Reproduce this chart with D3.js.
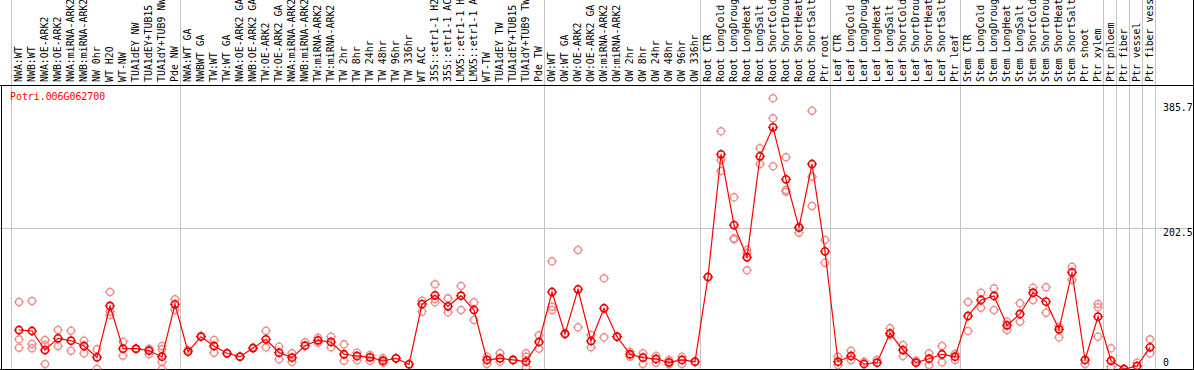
<!DOCTYPE html>
<html>
<head>
<meta charset="utf-8">
<script src="https://cdn.jsdelivr.net/npm/d3@7"></script>
<style>
  html, body { margin: 0; padding: 0; background: #fff; }
  svg { display: block; }
  text { font-family: "DejaVu Sans Mono", "Liberation Mono", monospace; font-size: 9.9px; }
</style>
</head>
<body>
<div id="chart"></div>
<script>
const geneName = 'Potri.006G062700';

const categories = [
  'NWA:WT', 'NWB:WT', 'NWA:OE-ARK2', 'NWB:OE-ARK2', 'NWA:miRNA-ARK2', 'NWB:miRNA-ARK2', 'NW 0hr', 'WT H2O',
  'WT-NW', 'TUA1dEY NW', 'TUA1dEY+TUB15 NW', 'TUA1dY+TUB9 NW', 'Pde NW',
  'NWA:WT GA', 'NWBWT GA', 'TW:WT', 'TW:WT GA', 'NWA:OE-ARK2 GA', 'NWB:OE-ARK2 GA', 'TW:OE-ARK2', 'TW:OE-ARK2 GA',
  'NWA:miRNA-ARK2 GA', 'NWB:miRNA-ARK2 GA', 'TW:miRNA-ARK2', 'TW:miRNA-ARK2 GA', 'TW 2hr', 'TW 8hr', 'TW 24hr',
  'TW 48hr', 'TW 96hr', 'TW 336hr', 'WT ACC', '35S::etr1-1 H2O', '35S::etr1-1 ACC', 'LMX5::etr1-1 H2O',
  'LMX5::etr1-1 ACC', 'WT-TW', 'TUA1dEY TW', 'TUA1dEY+TUB15 TW', 'TUA1dY+TUB9 TW', 'Pde TW',
  'OW:WT', 'OW:WT GA', 'OW:OE-ARK2', 'OW:OE-ARK2 GA', 'OW:miRNA-ARK2', 'OW:miRNA-ARK2 GA', 'OW 2hr', 'OW 8hr',
  'OW 24hr', 'OW 48hr', 'OW 96hr', 'OW 336hr',
  'Root CTR', 'Root LongCold', 'Root LongDrought', 'Root LongHeat', 'Root LongSalt', 'Root ShortCold',
  'Root ShortDrought', 'Root ShortHeat', 'Root ShortSalt', 'Ptr root',
  'Leaf CTR', 'Leaf LongCold', 'Leaf LongDrought', 'Leaf LongHeat', 'Leaf LongSalt', 'Leaf ShortCold',
  'Leaf ShortDrought', 'Leaf ShortHeat', 'Leaf ShortSalt', 'Ptr leaf',
  'Stem CTR', 'Stem LongCold', 'Stem LongDrought', 'Stem LongHeat', 'Stem LongSalt', 'Stem ShortCold',
  'Stem ShortDrought', 'Stem ShortHeat', 'Stem ShortSalt', 'Ptr shoot',
  'Ptr xylem', 'Ptr phloem', 'Ptr fiber', 'Ptr vessel', 'Ptr fiber vessel'
];

// mean expression per sample
const means = [
  56.1, 54.7, 27.3, 44.2, 40.7, 33.1, 16.8, 90.7, 29.2, 29.2, 26.3, 17.7, 93.1,
  24.9, 46.5, 33.1, 22.6, 17.7, 30.2, 42.7, 23.5, 16.3, 33.5, 41.3, 38.9, 21.2, 18.7, 16.8,
  11.9, 15.4, 6.8, 93.5, 106.1, 90.2, 105.5, 84.9, 13.0, 15.4, 13.0, 10.5, 38.9,
  110.8, 50.4, 114.7, 40.3, 87.4, 46.5, 21.2, 16.3, 14.4, 9.6, 13.0, 10.5,
  132.4, 309.0, 207.2, 160.8, 306.1, 347.8, 273.0, 203.4, 295.0, 169.4,
  10.5, 18.7, 7.2, 9.1, 51.4, 27.3, 9.1, 14.8, 21.2, 17.7,
  76.3, 99.3, 105.1, 62.9, 79.2, 109.8, 96.9, 57.1, 139.2, 13.0,
  75.3, 11.9, 0, 4.3, 31.2
];

// individual replicates per sample
const replicates = [
  [96.4, 42.7, 30.7], [97.9, 36.0, 29.8], [41.7, 34.5, 7.2], [56.1, 33.1], [55.1, 26.3], [40.7, 22.6],
  [28.4, 0], [110.8, 82.5, 77.7], [39.3, 19.1], [29.2, 28.8], [29.2, 21.2], [33.1, 28.4, 10.5, 0],
  [100.3, 84.9],
  [27.3], [47.5], [41.7, 23.5], [22.6], [17.7], [30.2], [55.1, 31.2], [32.1, 14.0], [22.6, 10.1],
  [38.4], [45.0, 37.8], [46.5, 31.2], [35.5, 11.9], [23.5, 12.5], [20.1, 11.9], [15.4, 9.1], [15.4],
  [6.8], [98.3, 82.5], [121.9, 96.0, 100.7], [101.7, 81.6], [119.4, 84.9], [96.0, 70.5], [17.7, 7.2],
  [22.6, 10.5], [13.0], [22.6, 17.7, 3.3], [48.5, 29.2],
  [155.0, 89.7, 84.9], [51.4], [171.3, 60.0], [48.9, 31.2], [130.5, 45.6], [46.5], [24.9, 17.7],
  [22.6, 7.2], [18.7, 9.1], [13.0, 6.8], [17.7, 7.2], [10.5],
  [132.4], [342.1, 300.8, 285.0], [247.1, 188.1, 186.7], [171.3, 166.5, 142.0], [317.6, 295.0],
  [389.6, 360.8, 291.7], [304.7, 257.6, 255.2], [204.8, 196.2], [371.7, 276.7, 234.6], [185.6, 153.0],
  [17.7, 5.8], [26.3, 13.0], [10.5], [13.0], [58.6, 48.9], [34.5, 18.7], [11.9], [22.6, 5.8],
  [33.1, 9.6], [21.6, 13.0],
  [96.4, 54.7], [109.8, 88.2], [116.1, 84.9], [68.1, 56.1], [94.6, 68.1], [117.0, 99.3], [117.6, 81.0],
  [45.6, 60.9], [147.2, 128.1], [7.2],
  [93.5, 88.8, 46.5], [29.8, 3.3], [0], [9.1], [42.7, 22.6]
];

// a grey separator is drawn just before each of these samples (88 = after the last one)
const separatorsBefore = [0, 13, 41, 53, 63, 73, 84, 85, 86, 87, 88];

const yTicks = [0, 202.5, 385.7];
const yGrid = [202.5];

const width = 1194;
const height = 370;
const plotTop = 85;
const plotBottom = 369;

const x = d3.scaleLinear().domain([0, categories.length - 1]).range([19, 1150]);
const y = d3.scaleLinear().domain([0, 385.7]).range([plotBottom, 101]);

const svg = d3.select('#chart').append('svg')
  .attr('width', width)
  .attr('height', height);

svg.append('defs').append('clipPath')
  .attr('id', 'plot-clip')
  .append('rect')
  .attr('x', 0)
  .attr('y', plotTop + 1)
  .attr('width', width)
  .attr('height', plotBottom - plotTop - 0.5);

// grid
svg.append('g').selectAll('line.sep').data(separatorsBefore).enter().append('line')
  .attr('x1', d => x(d) - 7.5)
  .attr('x2', d => x(d) - 7.5)
  .attr('y1', 0)
  .attr('y2', plotBottom)
  .attr('stroke', '#c4c4c4')
  .attr('stroke-width', 1);

svg.append('g').selectAll('line.h').data(yGrid).enter().append('line')
  .attr('x1', 0)
  .attr('x2', width)
  .attr('y1', d => Math.round(y(d)) + 0.5)
  .attr('y2', d => Math.round(y(d)) + 0.5)
  .attr('stroke', '#c4c4c4')
  .attr('stroke-width', 1);

// frame
svg.append('line').attr('x1', 0).attr('x2', width).attr('y1', plotTop + 0.5).attr('y2', plotTop + 0.5)
  .attr('stroke', '#000');
svg.append('line').attr('x1', 0).attr('x2', width).attr('y1', plotBottom + 0.5).attr('y2', plotBottom + 0.5)
  .attr('stroke', '#000');
svg.append('line').attr('x1', 1.5).attr('x2', 1.5).attr('y1', plotTop).attr('y2', height)
  .attr('stroke', '#000');
svg.append('line').attr('x1', width - 0.5).attr('x2', width - 0.5).attr('y1', 0).attr('y2', height)
  .attr('stroke', '#000');

// sample labels
svg.append('g').selectAll('text').data(categories).enter().append('text')
  .attr('transform', (d, i) => `translate(${x(i) + 3},82) rotate(-90)`)
  .attr('fill', '#000')
  .text(d => d);

// y labels
const yLabelDy = { 0: -3, 202.5: 8, 385.7: 9.5 };
svg.append('g').selectAll('text').data(yTicks).enter().append('text')
  .attr('x', 1163)
  .attr('y', d => y(d) + yLabelDy[d])
  .attr('fill', '#000')
  .text(d => d);

svg.append('text')
  .attr('x', 10)
  .attr('y', 100)
  .attr('fill', '#ff0000')
  .text(geneName);

const plot = svg.append('g').attr('clip-path', 'url(#plot-clip)');

function marker(sel, color, width) {
  const r = 3.6;
  sel.append('circle')
    .attr('r', r)
    .attr('fill', 'none')
    .attr('stroke', color)
    .attr('stroke-width', width);
  sel.append('path')
    .attr('d', `M0,${-r - 1.5}V${-r + 1}M0,${r - 1}V${r + 1.5}M${-r - 1.5},0H${-r + 1}M${r - 1},0H${r + 1.5}`)
    .attr('stroke', color)
    .attr('stroke-width', 1);
}

const reps = [];
replicates.forEach((vals, i) => vals.forEach(v => reps.push({ i, v })));

plot.append('g').selectAll('g').data(reps).enter().append('g')
  .attr('transform', d => `translate(${x(d.i)},${y(d.v)})`)
  .call(marker, '#ec8e8e', 1.3);

const line = d3.line()
  .x((d, i) => x(i))
  .y(d => y(d));

plot.append('path')
  .datum(means)
  .attr('d', line)
  .attr('fill', 'none')
  .attr('stroke', '#ff0000')
  .attr('stroke-width', 1.2);

plot.append('g').selectAll('g').data(means).enter().append('g')
  .attr('transform', (d, i) => `translate(${x(i)},${y(d)})`)
  .call(marker, '#ee0000', 1.6);
</script>
</body>
</html>
